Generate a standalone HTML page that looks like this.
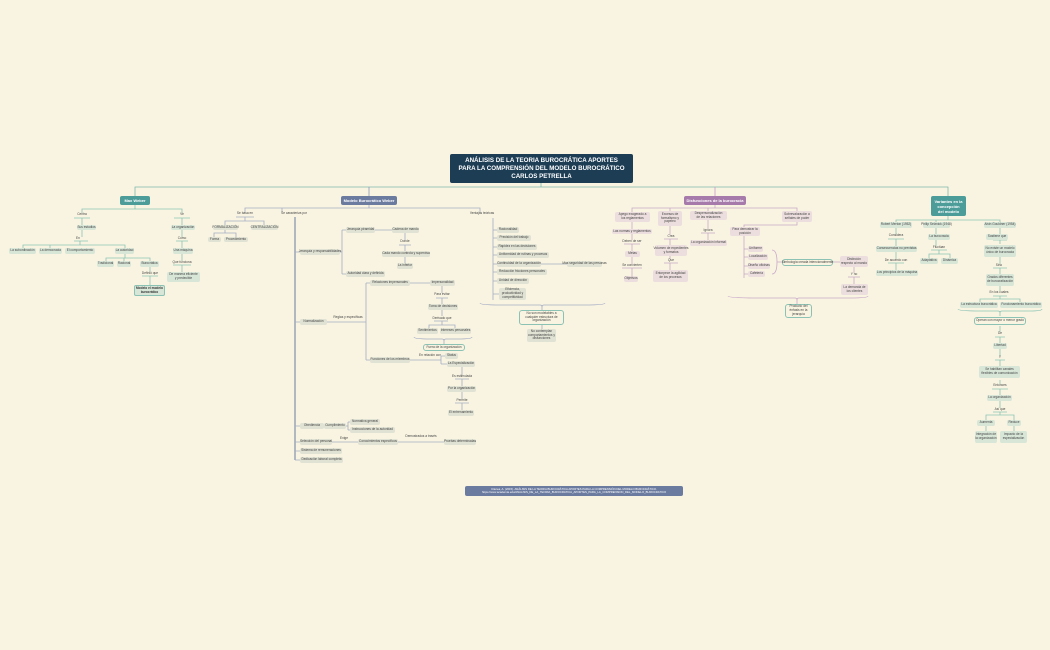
<!DOCTYPE html>
<html><head><meta charset="utf-8"><style>
body{margin:0;width:1050px;height:650px;background:#f9f4e1;position:relative;overflow:hidden;font-family:"Liberation Sans",sans-serif}
.n,.t,.h{position:absolute;display:flex;align-items:center;justify-content:center;text-align:center;font-size:3.2px;line-height:3.7px;color:#444;box-sizing:border-box}
.n,.t{white-space:nowrap}
.n{background:#e0e2d3;border-radius:2px}
.p{background:#ecdede}
.g{background:#d8e6d8}
.o{background:#f9f4e1;border:1px solid #8cc2b4;border-radius:3px}
.h{color:#fff;font-weight:bold;border-radius:2px}
svg{position:absolute;left:0;top:0}
</style></head><body>
<svg width="1050" height="650" fill="none" stroke-width="0.8">
<g stroke="#7fb8ad">
<path d="M541 183V187M135 196V187H948V196"/>
</g>
<g stroke="#8a97b8"><path d="M369 187V196"/></g>
<g stroke="#c49bc5"><path d="M715 187V196"/></g>
<g stroke="#8cc2b4">
<path d="M135 205V209H82V213M135 209H182V213"/>
<path d="M74 218H90M82 218V225M82 230V237M74 241H88M80 241V245H23V249M80 245H50V249M80 245H125V249M80 245"/>
<path d="M125 254V258H106V261M125 258H124V261M125 258H150V261M150 266V272M142 276H158M150 276V286"/>
<path d="M174 218H190M182 218V225M182 230V237M176 241H188M182 241V249M182 254V261M173 265H191M182 265V273"/>
</g>
<g stroke="#a4acc4">
<path d="M369 205V208H245V212M369 208H282V212M369 208H480V212"/>
<path d="M236 217H254M245 217V221H225V225M245 221H264V225M225 230V233H214V237M225 233H236V237"/>
<path d="M493 218V300M493 230H497M493 238H497M493 247H497M493 255H497M493 264H497M493 272H497M493 281H497M493 294H499M541 264H567"/>
<path d="M480 303Q480 305 500 305H540Q542 305 542 307Q542 305 544 305H585Q605 305 605 303M542 307V310M542 325V329"/>
</g>
<g stroke="#6b7ba0" stroke-width="1"><path d="M295 217V460"/></g>
<g stroke="#a4acc4">
<path d="M295 252H300M295 322H300M295 426H300M295 442H300M295 451H300M295 460H300"/>
<path d="M340 252H342M342 230V274M342 230H346M342 274H346M375 230H392M405 233V240M399 245H411M405 245V251M405 257V263"/>
<path d="M327 322H366M366 283V360M366 283H370M366 360H370M410 283H430M442 286V293M436 298H448M442 298V304M442 310V316M434 321H448M442 321V325H429V329M442 325H455V329"/>
<path d="M414 337Q414 339 430 339H442Q444 339 444 341Q444 339 446 339H458Q472 339 472 337M444 341V344"/>
<path d="M410 360H441M441 356V364M441 356H445M441 364H447M462 367V375M455 379H469M462 379V387M462 392V399M455 403H469M462 403V411"/>
<path d="M328 426H324M346 426H348M348 422V430M348 422H350M348 430H350M332 442H358M398 442H444"/>
</g>
<g stroke="#c9a8c9">
<path d="M715 205V208H632V212M715 208H670V211M715 208H708V212M715 208H797V212"/>
<path d="M632 222V229M632 234V240M624 244H640M632 244V251M632 257V264M622 268H642M632 268V276"/>
<path d="M670 226V235M664 239H678M670 239V246M670 256V259M664 263H678M670 263V270"/>
<path d="M708 219V229M701 233H715M708 233V240"/>
<path d="M797 221V225H744V227M744 235V278M744 249H748M744 257H748M744 266H748M744 274H748"/>
<path d="M772 250Q777 250 777 262Q777 274 772 274M777 262H782M832 262H840M854 267V273M848 277H860M854 277V284"/>
<path d="M728 296Q728 298 760 298H795Q797 298 797 300Q797 298 799 298H850Q868 298 868 296M797 300V304"/>
</g>
<g stroke="#8cc2b4">
<path d="M948 216V220H896V222M948 220H936V222M948 220H1000V222"/>
<path d="M896 228V234M888 239H904M896 239V246M896 252V259M888 263H904M896 263V271"/>
<path d="M936 228V235M936 240V246M931 250H947M939 250V254H929V258M939 254H950V258"/>
<path d="M1000 228V235M993 240H1007M1000 240V244M1000 257V264M993 268H1007M1000 268V274M1000 286V291M993 296H1007M1000 296V299H980V302M1000 299H1020V302"/>
<path d="M958 309Q958 311 980 311H998Q1000 311 1000 313Q1000 311 1002 311H1030Q1042 311 1042 309M1000 313V316M1000 326V332M995 337H1005M1000 337V343M1000 349V356M995 360H1005M1000 360V366M1000 380V384M992 389H1008M1000 389V395M1000 401V408M993 412H1007M1000 412V415H986V420M1000 415H1014V420M986 426V431M1014 426V431"/>
</g>
</svg>

<div class="h" style="left:450px;top:154px;width:183px;height:29px;background:#1d3d55;font-size:6.2px;line-height:8px">ANÁLISIS DE LA TEORIA BUROCRÁTICA APORTES<br>PARA LA COMPRENSIÓN DEL MODELO BUROCRÁTICO<br>CARLOS PETRELLA</div>
<div class="h" style="left:120px;top:196px;width:30px;height:9px;background:#4c9c9a;font-size:4px">Max Weber</div>
<div class="h" style="left:341px;top:196px;width:56px;height:9px;background:#6b7ba0;font-size:4px">Modelo Burocrático Weber</div>
<div class="h" style="left:684px;top:196px;width:62px;height:9px;background:#a67aab;font-size:4px">Disfunciones de la burocracia</div>
<div class="h" style="left:931px;top:196px;width:35px;height:20px;background:#4c9c9a;font-size:4px;line-height:5px">Variantes en la<br>concepción<br>del modelo</div>
<div class="h" style="left:465px;top:486px;width:218px;height:10px;background:#6b7ba0;font-size:2.8px;line-height:3.4px;font-weight:normal">Citerea, A. (2015). ANÁLISIS DE LA TEORIA BUROCRÁTICA APORTES PARA LA COMPRENSIÓN DEL MODELO BUROCRÁTICO. https://www.academia.edu/ANALISIS_DE_LA_TEORIA_BUROCRATICA_APORTES_PARA_LA_COMPRENSION_DEL_MODELO_BUROCRATICO</div>

<div class="t" style="left:72px;top:212px;width:20px;height:5px">Centra</div>
<div class="n g" style="left:77px;top:225px;width:19px;height:5px">Sus estudios</div>
<div class="t" style="left:72px;top:236px;width:12px;height:5px">En</div>
<div class="n g" style="left:9px;top:248px;width:27px;height:6px">La subordinación</div>
<div class="n g" style="left:39px;top:248px;width:23px;height:6px">La democracia</div>
<div class="n g" style="left:65px;top:248px;width:30px;height:6px">El comportamiento</div>
<div class="n g" style="left:115px;top:248px;width:19px;height:6px">La autoridad</div>
<div class="n g" style="left:97px;top:261px;width:17px;height:6px">Tradicional</div>
<div class="n g" style="left:117px;top:261px;width:14px;height:6px">Racional</div>
<div class="n g" style="left:140px;top:261px;width:19px;height:6px">Burocrática</div>
<div class="t" style="left:140px;top:271px;width:20px;height:5px">Definió que</div>
<div class="n g" style="left:134px;top:285px;width:31px;height:11px;border:1px solid #8cc2b4;font-weight:bold;color:#333">Modelo el modelo<br>burocrático</div>
<div class="t" style="left:176px;top:212px;width:12px;height:5px">Ve</div>
<div class="n g" style="left:171px;top:225px;width:24px;height:5px">La organización</div>
<div class="t" style="left:175px;top:236px;width:14px;height:5px">Como</div>
<div class="n g" style="left:173px;top:248px;width:20px;height:6px">Una máquina</div>
<div class="t" style="left:172px;top:260px;width:20px;height:5px">Que funciona</div>
<div class="n g" style="left:167px;top:272px;width:33px;height:10px">De manera eficiente<br>y predecible</div>

<div class="t" style="left:235px;top:211px;width:20px;height:5px">Se basa en</div>
<div class="n" style="left:213px;top:225px;width:25px;height:5px">FORMALIZACIÓN</div>
<div class="n" style="left:251px;top:225px;width:27px;height:5px">CENTRALIZACIÓN</div>
<div class="n" style="left:208px;top:237px;width:13px;height:5px">Forma</div>
<div class="n" style="left:224px;top:237px;width:24px;height:5px">Procedimiento</div>
<div class="t" style="left:278px;top:211px;width:32px;height:5px">Se caracteriza por</div>
<div class="n" style="left:300px;top:249px;width:40px;height:6px">Jerarquía y responsabilidades</div>
<div class="n" style="left:346px;top:227px;width:29px;height:6px">Jerarquía piramidal</div>
<div class="n" style="left:392px;top:227px;width:27px;height:6px">Cadena de mando</div>
<div class="t" style="left:398px;top:239px;width:14px;height:5px">Donde</div>
<div class="n" style="left:382px;top:251px;width:48px;height:6px">Cada mando controla y supervisa</div>
<div class="n" style="left:397px;top:263px;width:16px;height:6px">La inferior</div>
<div class="n" style="left:346px;top:271px;width:39px;height:6px">Autoridad clara y definida</div>
<div class="n" style="left:370px;top:280px;width:40px;height:6px">Relaciones impersonales</div>
<div class="n" style="left:430px;top:280px;width:25px;height:6px">Impersonalidad</div>
<div class="t" style="left:432px;top:292px;width:20px;height:5px">Para evitar</div>
<div class="n" style="left:428px;top:304px;width:30px;height:6px">Toma de decisiones</div>
<div class="t" style="left:430px;top:316px;width:24px;height:5px">Derivado que</div>
<div class="n" style="left:417px;top:328px;width:21px;height:6px">Sentimientos</div>
<div class="n" style="left:440px;top:328px;width:31px;height:6px">Intereses personales</div>
<div class="n o" style="left:423px;top:344px;width:42px;height:7px">Fuera de la organización</div>
<div class="n" style="left:300px;top:319px;width:27px;height:6px">Normalización</div>
<div class="t" style="left:333px;top:315px;width:30px;height:5px">Reglas y específicas</div>
<div class="n" style="left:370px;top:357px;width:40px;height:6px">Funciones de los miembros</div>
<div class="t" style="left:418px;top:353px;width:24px;height:5px">En relación con</div>
<div class="n" style="left:445px;top:353px;width:13px;height:6px">Status</div>
<div class="n" style="left:447px;top:361px;width:28px;height:6px">La Especialización</div>
<div class="t" style="left:450px;top:374px;width:24px;height:5px">Es estimulada</div>
<div class="n" style="left:447px;top:386px;width:29px;height:6px">Por la organización</div>
<div class="t" style="left:452px;top:398px;width:20px;height:5px">Permite</div>
<div class="n" style="left:448px;top:410px;width:26px;height:6px">El entrenamiento</div>
<div class="n" style="left:300px;top:423px;width:24px;height:6px">Obediencia</div>
<div class="n" style="left:324px;top:423px;width:22px;height:6px">Cumplimiento</div>
<div class="n" style="left:350px;top:419px;width:30px;height:6px">Normativa general</div>
<div class="n" style="left:350px;top:427px;width:45px;height:6px">Instrucciones de la autoridad</div>
<div class="n" style="left:300px;top:439px;width:32px;height:6px">Selección del personal</div>
<div class="t" style="left:338px;top:436px;width:12px;height:5px">Exige</div>
<div class="n" style="left:358px;top:439px;width:40px;height:6px">Conocimientos específicos</div>
<div class="t" style="left:404px;top:434px;width:34px;height:5px">Demostrados a través</div>
<div class="n" style="left:444px;top:439px;width:32px;height:6px">Pruebas determinadas</div>
<div class="n" style="left:300px;top:448px;width:42px;height:6px">Sistema de remuneraciones</div>
<div class="n" style="left:300px;top:457px;width:43px;height:6px">Dedicación laboral completa</div>
<div class="t" style="left:470px;top:211px;width:24px;height:5px">Ventajas teóricas</div>
<div class="n" style="left:497px;top:227px;width:22px;height:6px">Racionalidad</div>
<div class="n" style="left:497px;top:235px;width:34px;height:6px">Precisión del trabajo</div>
<div class="n" style="left:497px;top:244px;width:40px;height:6px">Rapidez en las decisiones</div>
<div class="n" style="left:497px;top:252px;width:52px;height:6px">Uniformidad de rutinas y procesos</div>
<div class="n" style="left:497px;top:261px;width:44px;height:6px">Continuidad de la organización</div>
<div class="n" style="left:567px;top:261px;width:35px;height:6px">Más seguridad de las personas</div>
<div class="n" style="left:497px;top:269px;width:50px;height:6px">Reducción fricciones personales</div>
<div class="n" style="left:497px;top:278px;width:32px;height:6px">Unidad de dirección</div>
<div class="n" style="left:499px;top:288px;width:27px;height:12px">Eficiencia,<br>productividad y<br>competitividad</div>
<div class="n o" style="left:519px;top:310px;width:45px;height:15px">No son modelables a<br>cualquier estructura de<br>organización</div>
<div class="n" style="left:527px;top:329px;width:29px;height:13px">No contemplan<br>comportamientos y<br>disfunciones</div>

<div class="n p" style="left:615px;top:212px;width:35px;height:10px">Apego exagerado a<br>los reglamentos</div>
<div class="n p" style="left:612px;top:229px;width:40px;height:5px">Las normas y reglamentos</div>
<div class="t" style="left:622px;top:239px;width:20px;height:5px">Deben de ser</div>
<div class="n p" style="left:625px;top:251px;width:15px;height:6px">Metas</div>
<div class="t" style="left:620px;top:263px;width:24px;height:5px">Se convierten</div>
<div class="n p" style="left:624px;top:276px;width:14px;height:6px">Objetivos</div>
<div class="n p" style="left:658px;top:211px;width:24px;height:15px">Excesos de<br>formalismo y<br>papeleo</div>
<div class="t" style="left:664px;top:234px;width:14px;height:5px">Crea</div>
<div class="n p" style="left:655px;top:245px;width:32px;height:11px">Volumen de expedientes<br>y formatos</div>
<div class="t" style="left:664px;top:258px;width:14px;height:5px">Que</div>
<div class="n p" style="left:653px;top:270px;width:35px;height:12px">Entorpece la agilidad<br>de los procesos</div>
<div class="n p" style="left:690px;top:211px;width:37px;height:9px">Despersonalización<br>de las relaciones</div>
<div class="t" style="left:700px;top:228px;width:16px;height:5px">Ignora</div>
<div class="n p" style="left:690px;top:240px;width:37px;height:6px">La organización informal</div>
<div class="n p" style="left:782px;top:211px;width:30px;height:11px">Sobrevaloración a<br>señales de poder</div>
<div class="n p" style="left:730px;top:227px;width:30px;height:9px">Para demostrar la<br>posición</div>
<div class="n p" style="left:748px;top:246px;width:15px;height:6px">Uniforme</div>
<div class="n p" style="left:748px;top:254px;width:20px;height:6px">Localización</div>
<div class="n p" style="left:748px;top:263px;width:22px;height:6px">Diseño oficinas</div>
<div class="n p" style="left:748px;top:271px;width:17px;height:6px">Cafetería</div>
<div class="n o" style="left:782px;top:259px;width:51px;height:7px">Simbología creada intencionalmente</div>
<div class="n p" style="left:840px;top:256px;width:28px;height:11px">Distinción<br>respecto al mando</div>
<div class="t" style="left:847px;top:272px;width:14px;height:5px">Y no</div>
<div class="n p" style="left:841px;top:284px;width:27px;height:11px">La demanda de<br>los clientes</div>
<div class="n o" style="left:785px;top:304px;width:27px;height:14px">Producto del<br>énfasis en la<br>jerarquía</div>

<div class="n g" style="left:880px;top:222px;width:32px;height:6px">Robert Merton (1952)</div>
<div class="t" style="left:886px;top:233px;width:20px;height:5px">Considera</div>
<div class="n g" style="left:876px;top:246px;width:41px;height:6px">Consecuencias no previstas</div>
<div class="t" style="left:884px;top:258px;width:24px;height:5px">De acuerdo con</div>
<div class="n g" style="left:876px;top:270px;width:42px;height:6px">Los principios de la máquina</div>
<div class="n g" style="left:923px;top:222px;width:27px;height:6px">Philip Selznick (1948)</div>
<div class="n g" style="left:928px;top:234px;width:22px;height:6px">La burocracia</div>
<div class="t" style="left:930px;top:245px;width:18px;height:5px">Fluctúan</div>
<div class="n g" style="left:920px;top:258px;width:18px;height:6px">Adaptativa</div>
<div class="n g" style="left:941px;top:258px;width:17px;height:6px">Dinámica</div>
<div class="n g" style="left:984px;top:222px;width:32px;height:6px">Alvin Gouldner (1954)</div>
<div class="n g" style="left:986px;top:234px;width:22px;height:6px">Sostiene que</div>
<div class="n g" style="left:984px;top:245px;width:32px;height:12px">No existe un modelo<br>único de burocracia</div>
<div class="t" style="left:992px;top:263px;width:14px;height:5px">Sino</div>
<div class="n g" style="left:986px;top:274px;width:28px;height:12px">Grados diferentes<br>de burocratización</div>
<div class="t" style="left:988px;top:290px;width:22px;height:5px">En los cuales</div>
<div class="n g" style="left:960px;top:302px;width:38px;height:6px">La estructura burocrática</div>
<div class="n g" style="left:1000px;top:302px;width:42px;height:6px">Funcionamiento burocrático</div>
<div class="n o" style="left:974px;top:317px;width:52px;height:8px">Operan con mayor o menor grado</div>
<div class="t" style="left:994px;top:331px;width:12px;height:5px">De</div>
<div class="n g" style="left:993px;top:343px;width:14px;height:6px">Libertad</div>
<div class="t" style="left:994px;top:355px;width:12px;height:5px">Y</div>
<div class="n g" style="left:979px;top:366px;width:41px;height:12px">Se habilitan canales<br>flexibles de comunicación</div>
<div class="t" style="left:990px;top:383px;width:20px;height:5px">Entonces</div>
<div class="n g" style="left:987px;top:395px;width:25px;height:6px">La organización</div>
<div class="t" style="left:991px;top:407px;width:18px;height:5px">Así que</div>
<div class="n g" style="left:977px;top:420px;width:18px;height:6px">Aumenta</div>
<div class="n g" style="left:1007px;top:420px;width:14px;height:6px">Reduce</div>
<div class="n g" style="left:975px;top:431px;width:22px;height:12px">Integración de<br>la organización</div>
<div class="n g" style="left:1000px;top:431px;width:27px;height:12px">Impacto de la<br>especialización</div>
</body></html>
